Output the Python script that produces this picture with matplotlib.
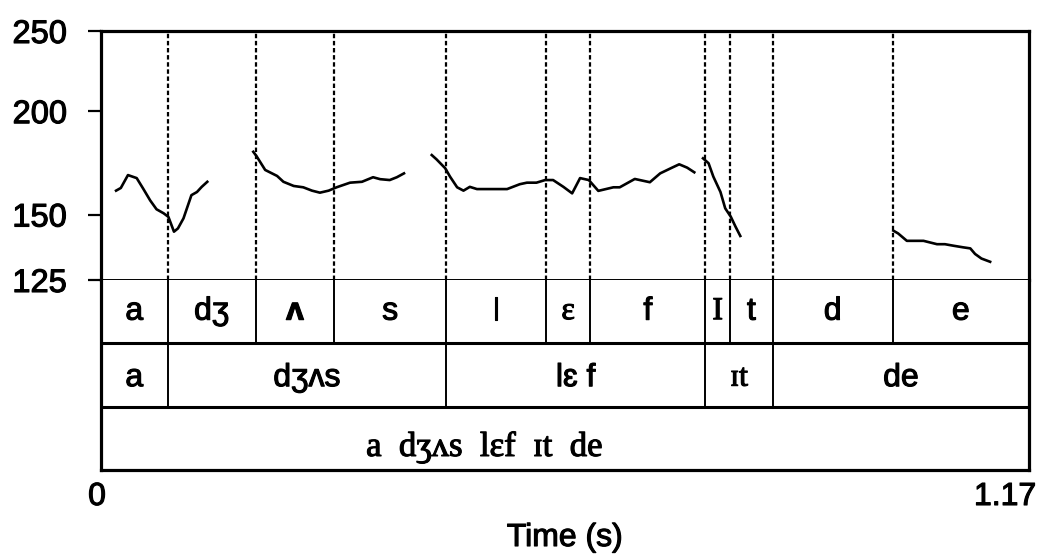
import matplotlib
matplotlib.use("Agg")
import matplotlib.pyplot as plt
from matplotlib.ticker import NullLocator
import matplotlib.patheffects as pe

# ---- data ----
seg1_t = [0.019, 0.025, 0.034, 0.045, 0.053, 0.062, 0.070, 0.079, 0.085, 0.092, 0.097, 0.104, 0.114, 0.121, 0.127, 0.134]
seg1_f = [160.3, 161.5, 167.4, 166.0, 161.3, 156.0, 152.2, 150.5, 149.0, 143.0, 144.3, 148.4, 158.3, 159.7, 162.0, 164.3]

seg2_t = [0.192, 0.196, 0.207, 0.222, 0.230, 0.243, 0.255, 0.266, 0.276, 0.287, 0.297, 0.314, 0.329, 0.343, 0.352, 0.364, 0.373, 0.382]
seg2_f = [178.6, 176.5, 169.8, 167.0, 164.3, 162.4, 161.8, 160.3, 159.4, 160.3, 161.8, 163.9, 164.3, 166.4, 165.5, 165.1, 166.4, 168.2]

seg3_t = [0.417, 0.423, 0.434, 0.440, 0.449, 0.457, 0.465, 0.474, 0.512, 0.528, 0.537, 0.549, 0.560, 0.570, 0.583, 0.594, 0.604, 0.615, 0.627, 0.646, 0.654, 0.673, 0.692, 0.705, 0.720, 0.729, 0.739, 0.748]
seg3_f = [177.0, 174.9, 170.6, 166.7, 161.8, 160.3, 162.0, 161.0, 161.0, 163.2, 163.9, 163.9, 165.1, 165.1, 162.0, 159.1, 166.0, 165.1, 160.2, 161.8, 161.8, 165.6, 164.1, 168.2, 170.9, 172.5, 170.9, 168.7]

seg4_t = [0.759, 0.766, 0.772, 0.781, 0.787, 0.794, 0.800, 0.806]
seg4_f = [175.4, 173.0, 166.7, 159.7, 152.6, 149.1, 145.0, 141.3]

seg5_t = [0.999, 1.005, 1.016, 1.037, 1.054, 1.064, 1.075, 1.087, 1.096, 1.102, 1.110, 1.121]
seg5_f = [143.4, 142.3, 139.4, 139.4, 138.1, 138.1, 137.5, 136.9, 136.5, 134.4, 132.7, 131.5]

tier1_bounds = [0.0, 0.084, 0.195, 0.294, 0.435, 0.561, 0.617, 0.762, 0.793, 0.847, 0.998, 1.17]
tier1_labels = ['a', 'dʒ', 'ʌ', 's', 'l', 'ɛ', 'f', 'I', 't', 'd', 'e']
tier2_bounds = [0.0, 0.084, 0.435, 0.762, 0.847, 1.17]
tier2_labels = ['a', 'dʒʌs', 'lɛ f', 'ɪt', 'de']
tier3_label = 'a  dʒʌs  lɛf  ɪt  de'

yticks = [125, 150, 200, 250]
t_max = 1.17

SANS = ['Liberation Sans', 'DejaVu Sans']
SERIF = ['Liberation Serif', 'DejaVu Serif']
serif_labels = {'ɛ', 'I', 'ɪt'}
THICK = [pe.withStroke(linewidth=0.8, foreground='black')]

fig = plt.figure(figsize=(10.42, 5.58), dpi=100)
W, H = 1042, 558
x0, x1 = 101, 1029
y_top, y_125, y_bot = 31, 280, 470

axp = fig.add_axes([x0 / W, 1 - y_125 / H, (x1 - x0) / W, (y_125 - y_top) / H])
axt = fig.add_axes([x0 / W, 1 - y_bot / H, (x1 - x0) / W, (y_bot - y_125) / H])

# ---- pitch axes ----
axp.set_yscale('log')
axp.set_ylim(125, 250)
axp.set_xlim(0, t_max)
for tt, ff in [(seg1_t, seg1_f), (seg2_t, seg2_f), (seg3_t, seg3_f), (seg4_t, seg4_f), (seg5_t, seg5_f)]:
    axp.plot(tt, ff, color='black', lw=1.9, solid_joinstyle='round')
for b in tier1_bounds[1:-1]:
    axp.axvline(b, color='black', lw=1.6, ls=(0, (2.0, 1.2)))
axp.yaxis.set_minor_locator(NullLocator())
axp.set_yticks(yticks)
axp.set_yticklabels([str(v) for v in yticks], fontfamily=SANS, fontsize=23.5)
for lbl in axp.get_yticklabels():
    lbl.set_path_effects(THICK)
axp.tick_params(axis='y', which='major', direction='out', length=9.5, width=1.6, pad=15)
axp.set_xticks([])
for s in ['top', 'left', 'right']:
    axp.spines[s].set_linewidth(2.3)
axp.spines['bottom'].set_linewidth(1.4)

# ---- tier axes ----
axt.set_xlim(0, t_max)
axt.set_ylim(0, 3)
axt.set_yticks([])
axt.set_xticks([])
for s in ['bottom', 'left', 'right']:
    axt.spines[s].set_linewidth(2.3)
axt.spines['top'].set_visible(False)
axt.axhline(2, color='black', lw=2.2)
axt.axhline(1, color='black', lw=2.2)
for b in tier1_bounds[1:-1]:
    axt.plot([b, b], [2, 3], color='black', lw=1.4)
for b in tier2_bounds[1:-1]:
    axt.plot([b, b], [1, 2], color='black', lw=1.4)
for i, lab in enumerate(tier1_labels):
    xc = (tier1_bounds[i] + tier1_bounds[i + 1]) / 2
    fam = SERIF if lab in serif_labels else SANS
    wt = 'bold' if lab == 'ʌ' else 'normal'
    axt.text(xc, 2.5, lab, ha='center', va='center', fontsize=23, fontfamily=fam,
             fontweight=wt, path_effects=THICK)
for i, lab in enumerate(tier2_labels):
    xc = (tier2_bounds[i] + tier2_bounds[i + 1]) / 2
    fam = SERIF if lab in serif_labels else SANS
    axt.text(xc, 1.45, lab, ha='center', va='center', fontsize=23, fontfamily=fam,
             path_effects=THICK)
axt.text(0.484, 0.36, tier3_label, ha='center', va='center', fontsize=25, fontfamily=SERIF,
         path_effects=THICK)

# x axis labels
fig.text(97 / W, 1 - 497 / H, '0', ha='center', va='center', fontsize=23, fontfamily=SANS, path_effects=THICK)
fig.text(1036 / W, 1 - 497 / H, '1.17', ha='right', va='center', fontsize=23, fontfamily=SANS, path_effects=THICK)
fig.text(565 / W, 1 - 538 / H, 'Time (s)', ha='center', va='center', fontsize=23, fontfamily=SANS, path_effects=THICK)

fig.savefig('out.png', dpi=100)
